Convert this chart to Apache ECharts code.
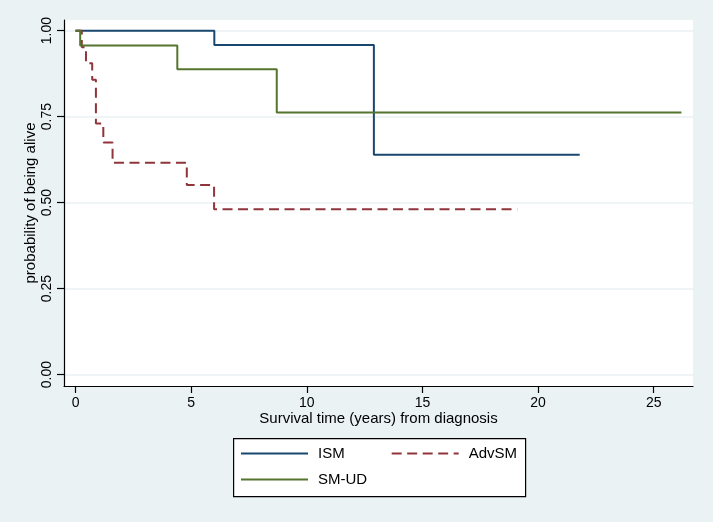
<!DOCTYPE html>
<html><head><meta charset="utf-8">
<script src="https://cdn.jsdelivr.net/npm/echarts@6/dist/echarts.min.js"></script>
<style>html,body{margin:0;padding:0;background:#eaf2f3}#c{width:713px;height:522px}</style>
</head><body><div id="c"></div>
<script>
// Kaplan-Meier step data: [time (years), survival probability after that time]
const ismData = [[0,1],[6.0,0.958],[12.9,0.639],[21.8,0.639]];
const advsmData = [[0,1],[0.27,0.952],[0.45,0.905],[0.72,0.857],[0.88,0.73],[1.2,0.675],[1.6,0.616],[4.81,0.551],[5.99,0.481],[19.1,0.481]];
const smudData = [[0,1],[0.2,0.957],[4.4,0.888],[8.7,0.762],[26.2,0.762]];
const xTicks = [0,5,10,15,20,25];
const yTicks = [0,0.25,0.5,0.75,1];
const seriesNames = ['ISM','AdvSM','SM-UD'];
const xTitle = 'Survival time (years) from diagnosis';
const yTitle = 'probability of being alive';

const font = 'Liberation Sans, Arial, sans-serif';
const legendCommon = {orient:'horizontal',itemWidth:67,itemHeight:14,itemGap:46,padding:0,
  itemStyle:{color:'rgba(0,0,0,0)',borderWidth:0},
  textStyle:{fontFamily:font,fontSize:15,color:'#000',padding:[0,0,0,5]}};
const chart = echarts.init(document.getElementById('c'), null, {renderer:'canvas'});
chart.setOption({
  backgroundColor:'#eaf2f3',
  animation:false,
  grid:{left:64,right:20,top:20,bottom:136,show:true,backgroundColor:'#ffffff',borderWidth:0,containLabel:false},
  xAxis:{type:'value',min:-0.5,max:26.7,
    name:xTitle,nameLocation:'middle',nameGap:25,nameMoveOverlap:false,
    nameTextStyle:{fontFamily:font,fontSize:15,color:'#000',verticalAlign:'top'},
    axisLine:{show:true,onZero:false,lineStyle:{color:'#000',width:1.2}},
    axisTick:{show:true,length:7,customValues:xTicks,lineStyle:{color:'#000',width:1.2}},
    axisLabel:{customValues:xTicks,margin:10,fontFamily:font,fontSize:14,color:'#000'},
    splitLine:{show:false}},
  yAxis:{type:'value',min:-0.033,max:1.031,
    name:yTitle,nameLocation:'middle',nameGap:26,nameRotate:90,nameMoveOverlap:false,
    nameTextStyle:{fontFamily:font,fontSize:15,color:'#000'},
    axisLine:{show:true,onZero:false,lineStyle:{color:'#000',width:1.2}},
    axisTick:{show:true,length:7,customValues:yTicks,lineStyle:{color:'#000',width:1.2}},
    axisLabel:{customValues:yTicks,rotate:90,margin:10,align:'center',verticalAlign:'bottom',
      fontFamily:font,fontSize:14,color:'#000',formatter:v=>v.toFixed(2)},
    splitLine:{show:true,lineStyle:{color:'#eaf2f3',width:1.5}}},
  graphic:[{type:'rect',left:233,top:438,z:0,
    shape:{width:292,height:58},style:{fill:'#ffffff',stroke:'#000',lineWidth:1.2}}],
  legend:[
    Object.assign({left:240,top:446,data:[seriesNames[0],seriesNames[1]]},legendCommon),
    Object.assign({left:240,top:472,data:[seriesNames[2]]},legendCommon)
  ],
  series:[
    {name:seriesNames[0],type:'line',step:'end',data:ismData,symbol:'none',z:2,
     lineStyle:{color:'#1a476f',width:2},itemStyle:{color:'#1a476f'}},
    {name:seriesNames[1],type:'line',step:'end',data:advsmData,symbol:'none',z:3,
     lineStyle:{color:'#90353b',width:2,type:[10,5.5]},itemStyle:{color:'#90353b'}},
    {name:seriesNames[2],type:'line',step:'end',data:smudData,symbol:'none',z:4,
     lineStyle:{color:'#55752f',width:2},itemStyle:{color:'#55752f'}}
  ]
});
</script></body></html>
